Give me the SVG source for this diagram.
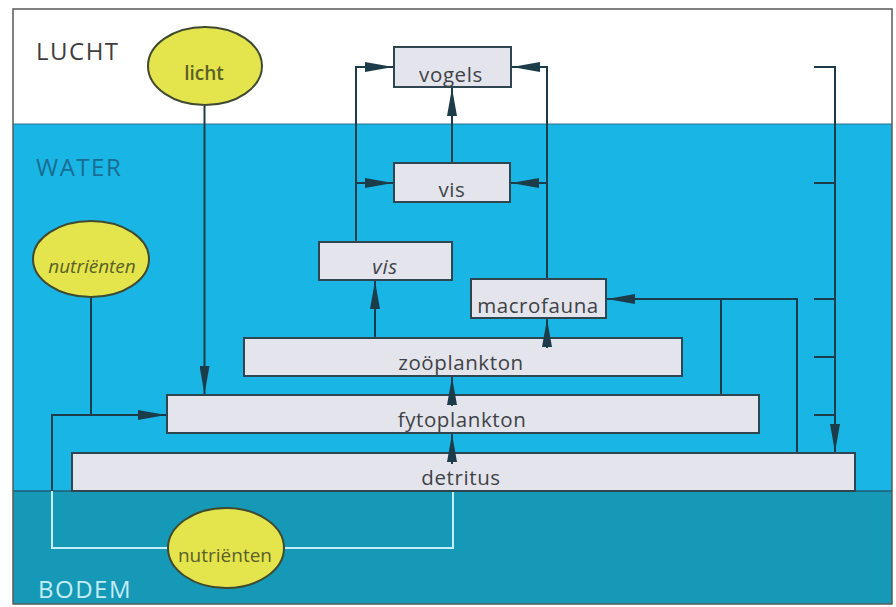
<svg xmlns="http://www.w3.org/2000/svg" width="896" height="607" viewBox="0 0 896 607">
<style>
.box{fill:#e4e4ec;stroke:#2f4550;stroke-width:2}
.ell{fill:#e4e44c;stroke:#3f4a30;stroke-width:2}
.bt{font-family:"Open Sans","Liberation Sans",sans-serif;font-size:20.5px;fill:#3e4246;text-anchor:middle;letter-spacing:0.6px}
.et{font-family:"Open Sans","Liberation Sans",sans-serif;font-size:19px;fill:#5a6028;text-anchor:middle}
.zone{font-family:"Open Sans","Liberation Sans",sans-serif;font-size:24px;letter-spacing:1.5px}
.ln{fill:none;stroke:#1d3c4a;stroke-width:2}
.lt{fill:none;stroke:#c6eef8;stroke-width:2}
</style>
<defs>
<marker id="ah" markerUnits="userSpaceOnUse" markerWidth="28" markerHeight="10" viewBox="0 0 28 10" refX="28" refY="5" orient="auto">
<path d="M0,0 L28,5 L0,10 z" fill="#1d3c4a"/>
</marker>
</defs>
<rect x="0" y="0" width="896" height="607" fill="#ffffff"/>
<rect x="13" y="124" width="879" height="367" fill="#19b5e4"/>
<rect x="13" y="491" width="879" height="113" fill="#1599b6"/>
<line x1="13" y1="124" x2="892" y2="124" stroke="#2a6f8c" stroke-width="1"/>
<line x1="13" y1="491" x2="892" y2="491" stroke="#1f5f74" stroke-width="1.5"/>
<rect x="13" y="9" width="879" height="595" fill="none" stroke="#5a5a5a" stroke-width="1.5"/>
<text class="zone" x="36" y="60" fill="#3d3d3d">LUCHT</text>
<text class="zone" x="36" y="176" fill="#1a6c93">WATER</text>
<text class="zone" x="38" y="598" fill="#c4ecf6">BODEM</text>
<g id="connectors">
<path class="ln" d="M356,242 V67 H393" marker-end="url(#ah)"/>
<path class="ln" d="M356,183 H393" marker-end="url(#ah)"/>
<path class="ln" d="M547,279 V67 H512" marker-end="url(#ah)"/>
<path class="ln" d="M547,183 H511" marker-end="url(#ah)"/>
<path class="ln" d="M452,163 V88" marker-end="url(#ah)"/>
<path class="ln" d="M375,338 V281" marker-end="url(#ah)"/>
<path class="ln" d="M204.5,106 V394" marker-end="url(#ah)"/>
<path class="ln" d="M91,298 V415"/>
<path class="ln" d="M52,491 V415 H166" marker-end="url(#ah)"/>
<path class="lt" d="M52,491 V548 H168"/>
<path class="lt" d="M284,548 H453 V491"/>
<path class="ln" d="M721,395 V299 H607" marker-end="url(#ah)"/>
<path class="ln" d="M797,453 V299 H721"/>
<path class="ln" d="M814,67 H835 V452" marker-end="url(#ah)"/>
<path class="ln" d="M814,183 H835 M814,299 H835 M814,357 H835 M814,415 H835"/>
</g>
<g id="licht"><ellipse class="ell" cx="205" cy="66" rx="57" ry="39"/><text class="et" x="204" y="80" font-weight="600">licht</text></g>
<g id="nutrienten-water"><ellipse class="ell" cx="91" cy="259" rx="58" ry="38"/><text class="et" x="92" y="273" font-style="italic">nutriënten</text></g>
<g id="nutrienten-bodem"><ellipse class="ell" cx="226" cy="548" rx="58" ry="40"/><text class="et" x="225" y="562">nutriënten</text></g>
<g id="vogels"><rect class="box" x="394" y="47" width="117" height="40"/><text class="bt" x="451" y="82">vogels</text></g>
<g id="vis-boven"><rect class="box" x="394" y="163" width="116" height="39"/><text class="bt" x="452" y="197">vis</text></g>
<g id="vis-onder"><rect class="box" x="319" y="242" width="133" height="38"/><text class="bt" x="385" y="274" font-style="italic">vis</text></g>
<g id="macrofauna"><rect class="box" x="471" y="279" width="135" height="39"/><text class="bt" x="538" y="313">macrofauna</text></g>
<g id="zooplankton"><rect class="box" x="244" y="338" width="438" height="38"/><text class="bt" x="461" y="370">zoöplankton</text></g>
<g id="fytoplankton"><rect class="box" x="167" y="395" width="592" height="38"/><text class="bt" x="462" y="427">fytoplankton</text></g>
<g id="detritus"><rect class="box" x="72" y="453" width="783" height="38"/><text class="bt" x="461" y="485">detritus</text></g>
<g id="connectors-over-boxes">
<path class="ln" d="M547,348 V319" marker-end="url(#ah)" stroke="none"/>
<path class="ln" d="M452,406 V377" marker-end="url(#ah)" stroke="none"/>
<path class="ln" d="M452,464 V434" marker-end="url(#ah)" stroke="none"/>
</g>
</svg>
